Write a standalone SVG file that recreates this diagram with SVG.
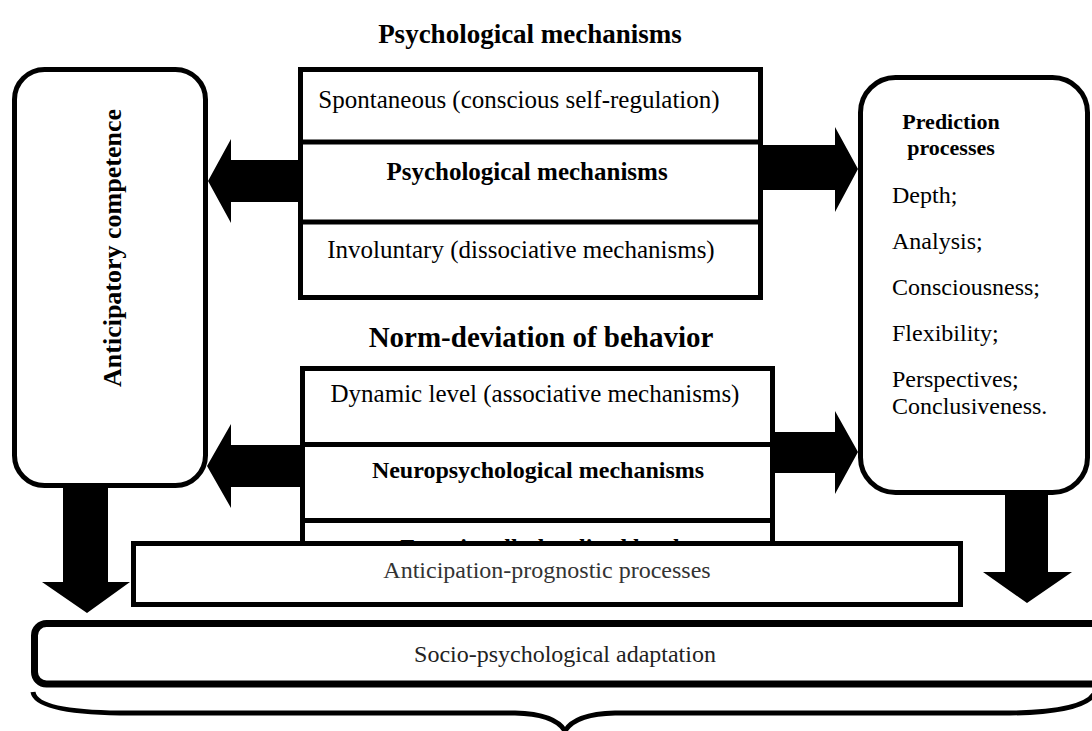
<svg xmlns="http://www.w3.org/2000/svg" width="1092" height="731" viewBox="0 0 1092 731">
<defs>
<style>
.box{fill:#fff;stroke:#000;stroke-width:5}
.line{fill:none;stroke:#000;stroke-width:5}
.arrow{fill:#000;stroke:none}
.t{font-family:"Liberation Serif","Times New Roman",serif;font-size:24px;fill:#000;text-anchor:middle}
.m{font-size:25px}
.l{text-anchor:start}
.b{font-weight:bold}
</style>
<clipPath id="cutLower"><rect x="290" y="360" width="500" height="181"/></clipPath>
</defs>
<rect width="1092" height="731" fill="#fff"/>
<text class="t b" x="530" y="43" style="font-size:27px">Psychological mechanisms</text>
<g id="connectors">
<polygon class="arrow" points="298,160 231,160 231,139 208,181 231,223 231,202 298,202"/>
<polygon class="arrow" points="763,145 835,145 835,127 858,169 835,212 835,190 763,190"/>
<polygon class="arrow" points="300,445 231,445 231,424 207,466 231,508 231,487 300,487"/>
<polygon class="arrow" points="775,432 835,432 835,411 858,452 835,494 835,473 775,473"/>
<polygon class="arrow" points="63,486 108,486 108,582 130,582 87,613 42,582 63,582"/>
<polygon class="arrow" points="1005,493 1048,493 1048,572 1072,572 1027,603 983,572 1005,572"/>
</g>
<g id="anticipatory-competence">
<rect class="box" x="14.5" y="69.5" width="191" height="416" rx="30"/>
<text class="t b" transform="translate(121,248) rotate(-90)" style="font-size:26px">Anticipatory competence</text>
</g>
<g id="prediction-processes">
<rect class="box" x="860.5" y="77.5" width="227" height="415" rx="35"/>
<text class="t b" x="951" y="129" style="font-size:22px">Prediction</text>
<text class="t b" x="951" y="155" style="font-size:22px">processes</text>
<text class="t l" x="892" y="203">Depth;</text>
<text class="t l" x="892" y="249">Analysis;</text>
<text class="t l" x="892" y="295">Consciousness;</text>
<text class="t l" x="892" y="341">Flexibility;</text>
<text class="t l" x="892" y="387">Perspectives;</text>
<text class="t l" x="892" y="414">Conclusiveness.</text>
</g>
<g id="psychological-mechanisms">
<rect class="box" x="300.5" y="69.5" width="460" height="228"/>
<line class="line" x1="300" y1="142" x2="761" y2="142"/>
<line class="line" x1="300" y1="222" x2="761" y2="222"/>
<text class="t m" x="519" y="108">Spontaneous (conscious self-regulation)</text>
<text class="t b m" x="527" y="180">Psychological mechanisms</text>
<text class="t m" x="521" y="258">Involuntary (dissociative mechanisms)</text>
</g>
<text class="t b" x="541" y="347" style="font-size:29px">Norm-deviation of behavior</text>
<g id="neuropsychological-mechanisms" clip-path="url(#cutLower)">
<rect class="box" x="302.5" y="368.5" width="470" height="240"/>
<line class="line" x1="302" y1="444.5" x2="773" y2="444.5"/>
<line class="line" x1="302" y1="520.5" x2="773" y2="520.5"/>
<text class="t m" x="535" y="402">Dynamic level (associative mechanisms)</text>
<text class="t b" x="538" y="478">Neuropsychological mechanisms</text>
<text class="t b" x="540" y="555">Functionally-localized level</text>
</g>
<g id="anticipation-prognostic">
<rect class="box" x="133.5" y="543.5" width="827" height="61"/>
<text class="t" x="547" y="578" style="fill:#333">Anticipation-prognostic processes</text>
</g>
<g id="socio-psychological-adaptation">
<rect class="box" x="34.5" y="623.5" width="1068" height="60.5" rx="12" style="stroke-width:7"/>
<text class="t" x="565" y="662" style="fill:#222">Socio-psychological adaptation</text>
</g>
<g id="brace">
<path class="line" d="M33,692 Q36,712 120,713 L515,713 Q555,714 565,731 Q575,714 615,713 L1010,713 Q1090,712 1096,690"/>
</g>
</svg>
